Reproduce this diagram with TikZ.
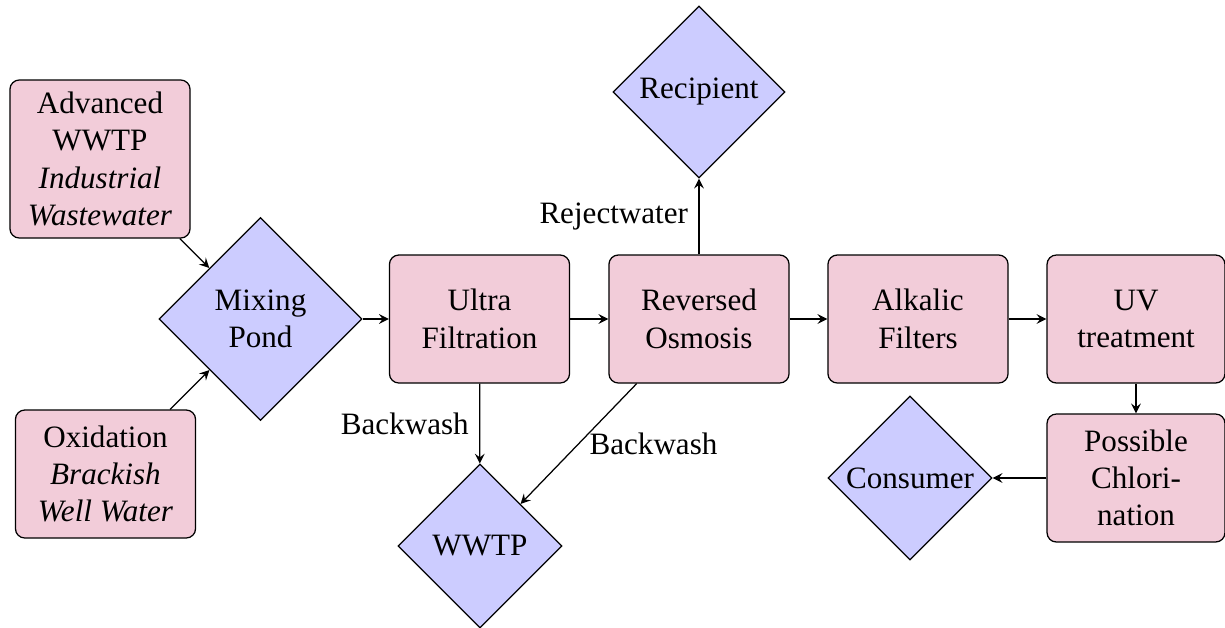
\documentclass[tikz,border=0pt]{standalone}
\usepackage{fontspec}
\setmainfont{LiberationSerif}[Extension=.ttf, UprightFont=*-Regular,
  ItalicFont=*-Italic, BoldFont=*-Bold, BoldItalicFont=*-BoldItalic]
\usetikzlibrary{shapes.geometric}
\begin{document}
\begin{tikzpicture}[x=0.3215pt,y=-0.3215pt,
  every node/.style={font=\rmfamily\fontsize{10}{12}\selectfont},
  stage/.style={draw, fill=purple!20, rounded corners=3pt, align=center,
    inner sep=0pt, minimum width=57.9pt, minimum height=41.15pt,
    font=\rmfamily\fontsize{10}{12}\selectfont},
  outlet/.style={draw, fill=blue!20, diamond, aspect=1, align=center,
    inner sep=0pt, font=\rmfamily\fontsize{10}{12}\selectfont},
  flow/.style={-stealth, line width=0.4pt},
  tag/.style={font=\rmfamily\fontsize{10}{12}\selectfont}]
\useasboundingbox (0,0) rectangle (1225,627);

% sources
\node[stage, minimum height=50.8pt] (adv) at (100,159)
  {Advanced\\WWTP\\\textit{Industrial}\\\textit{Wastewater}};
\node[stage] (oxi) at (105.5,474)
  {Oxidation\\\textit{Brackish}\\\textit{Well Water}};

% treatment chain
\node[outlet, minimum width=65.3pt, minimum height=65.3pt] (mix) at (260.5,319) {Mixing\\Pond};
\node[stage] (uf) at (479.5,319) {Ultra\\Filtration};
\node[stage] (ro) at (699,319) {Reversed\\Osmosis};
\node[stage] (alk) at (918,319) {Alkalic\\Filters};
\node[stage, minimum width=57.2pt] (uv) at (1136,319) {UV\\treatment};
\node[stage, minimum width=57.2pt] (chl) at (1136,478) {Possible\\Chlori-\\nation};

% outlets
\node[outlet, minimum width=55.3pt, minimum height=55.3pt] (rec) at (699,92) {Recipient};
\node[outlet, minimum width=52.7pt, minimum height=52.7pt] (wwtp) at (480,546) {WWTP};
\node[outlet, minimum width=52.7pt, minimum height=52.7pt] (con) at (910,478) {Consumer};

% connectors
\draw[flow] (adv) -- (mix);
\draw[flow] (oxi) -- (mix);
\draw[flow] (mix) -- (uf);
\draw[flow] (uf) -- (ro);
\draw[flow] (ro) -- (alk);
\draw[flow] (alk) -- (uv);
\draw[flow] (uv) -- (chl);
\draw[flow] (chl) -- (con);
\draw[flow] (ro) -- node[tag, midway, left] (lrej) {Rejectwater} (rec);
\draw[flow] (uf) -- node[tag, midway, left] (lbw1) {Backwash} (wwtp);
\draw[flow] (ro) -- node[tag, midway, right] (lbw2) {Backwash} (wwtp);
\end{tikzpicture}
\end{document}
